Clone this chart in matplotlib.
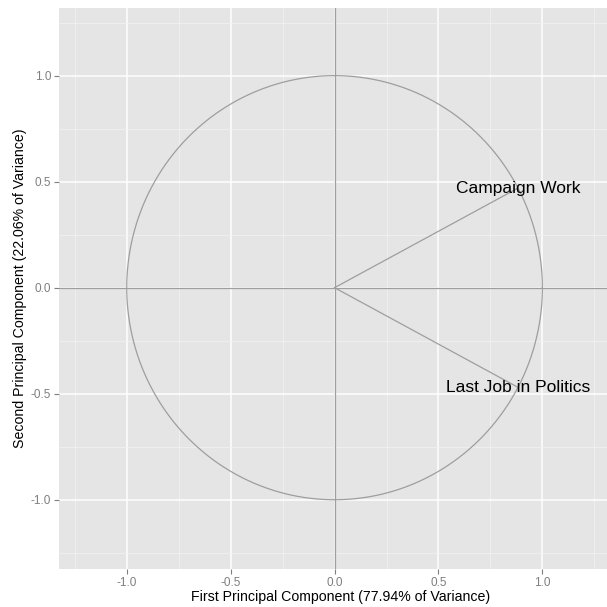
import numpy as np
import matplotlib
matplotlib.use("Agg")
import matplotlib.pyplot as plt

# Loadings of each variable on the first two principal components
variables = ["Campaign Work", "Last Job in Politics"]
pc1_loadings = [0.883, 0.883]
pc2_loadings = [0.470, -0.470]

x_title = "First Principal Component (77.94% of Variance)"
y_title = "Second Principal Component (22.06% of Variance)"
major_ticks = [-1.0, -0.5, 0.0, 0.5, 1.0]
tick_labels = ["-1.0", "-0.5", "0.0", "0.5", "1.0"]
minor_ticks = [-1.25, -0.75, -0.25, 0.25, 0.75, 1.25]

plt.rcParams["font.family"] = ["Liberation Sans", "DejaVu Sans"]

fig = plt.figure(figsize=(6.07, 6.07), dpi=100)
ax = fig.add_axes([59 / 607, 1 - 569.3 / 607, (607 - 59) / 607, (569.3 - 8) / 607])
ax.set_facecolor("#E5E5E5")
for s in ax.spines.values():
    s.set_visible(False)

ax.set_xlim(-1.326, 1.311)
ax.set_ylim(-1.328, 1.319)

ax.set_xticks(major_ticks)
ax.set_xticklabels(tick_labels)
ax.set_yticks(major_ticks)
ax.set_yticklabels(tick_labels)
ax.set_xticks(minor_ticks, minor=True)
ax.set_yticks(minor_ticks, minor=True)
ax.grid(which="major", color="white", linewidth=1.1)
ax.grid(which="minor", color="#F2F2F2", linewidth=0.5)
ax.set_axisbelow(True)
ax.tick_params(which="major", length=3.5, width=0.8, color="#7F7F7F",
               labelcolor="#7F7F7F", labelsize=8.5, pad=2)
ax.tick_params(which="minor", length=0)

line_col = "#9E9E9E"
# Reference axes through the origin
ax.axhline(0, color=line_col, linewidth=0.9, zorder=2)
ax.axvline(0, color=line_col, linewidth=0.9, zorder=2)

# Unit circle of correlations
theta = np.linspace(0, 2 * np.pi, 400)
ax.plot(np.cos(theta), np.sin(theta), color=line_col, linewidth=0.9, zorder=3)

# Variable arrows and labels
for name, x, y in zip(variables, pc1_loadings, pc2_loadings):
    ax.plot([0, x], [0, y], color=line_col, linewidth=0.9, zorder=3)
    ax.text(x, y, name, ha="center", va="center", fontsize=12.5, color="black", zorder=4)

ax.set_xlabel(x_title, fontsize=10.2)
ax.set_ylabel(y_title, fontsize=10.2)
ax.xaxis.set_label_coords((341 - 59) / 548, -0.036)
ax.yaxis.set_label_coords(-(59 - 27) / 548, 0.5)

fig.savefig("out.png", dpi=100)
